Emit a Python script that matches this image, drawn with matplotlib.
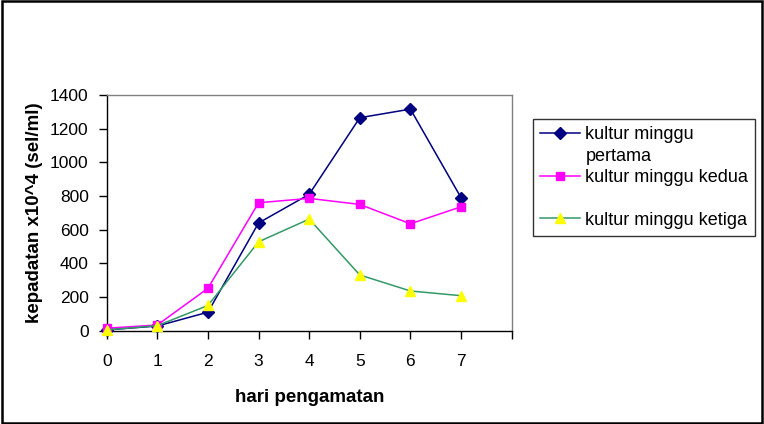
import matplotlib
matplotlib.use("Agg")
import matplotlib.pyplot as plt
from matplotlib.patches import Rectangle
from matplotlib.lines import Line2D

plt.rcParams['font.family'] = ['Liberation Sans', 'DejaVu Sans']

days = [0, 1, 2, 3, 4, 5, 6, 7]
minggu1 = [5, 28, 110, 640, 810, 1265, 1316, 790]
minggu2 = [15, 34, 252, 760, 786, 750, 635, 736]
minggu3 = [5, 30, 150, 528, 663, 331, 236, 208]
labels = ["kultur minggu", "pertama", "kultur minggu kedua", " ", "kultur minggu ketiga"]
yticks = [0, 200, 400, 600, 800, 1000, 1200, 1400]

fig = plt.figure(figsize=(7.64, 4.24), dpi=100)
fig.patch.set_facecolor('white')
fig.patches.append(Rectangle((0.002, 0.003), 0.995, 0.994, transform=fig.transFigure,
                             fill=False, edgecolor='black', linewidth=1.8, zorder=10))

ax = fig.add_axes([0.1397, 0.220, 0.530, 0.556])
l1, = ax.plot(days, minggu1, color='#000080', marker='D', markersize=6,
              markerfacecolor='#000080', markeredgecolor='#000080', linewidth=1.1, zorder=3)
l2, = ax.plot(days, minggu2, color='#FF00FF', marker='s', markersize=6,
              markerfacecolor='#FF00FF', markeredgecolor='#FF00FF', linewidth=1.1, zorder=3)
l3, = ax.plot(days, minggu3, color='#339966', marker='^', markersize=7.5,
              markerfacecolor='#FFFF00', markeredgecolor='#FFFF00', linewidth=1.1, zorder=4)

ax.set_xlim(0, 8)
ax.set_ylim(0, 1400)
ax.set_xticks(range(0, 9))
ax.set_xticklabels([str(d) for d in days] + [""])
ax.set_yticks(yticks)
ax.set_yticklabels([str(v) for v in yticks])
ax.tick_params(axis='x', direction='out', length=6, width=1, pad=11, labelsize=12.5)
ax.tick_params(axis='y', direction='out', length=6, width=1, pad=7, labelsize=12.5)
for s in ['left', 'bottom']:
    ax.spines[s].set_color('black')
    ax.spines[s].set_linewidth(1)
for s in ['top', 'right']:
    ax.spines[s].set_color('#808080')
    ax.spines[s].set_linewidth(1)
for l in [l1, l2, l3]:
    l.set_clip_on(False)

ax.set_xlabel("hari pengamatan", fontsize=13.5, fontweight='bold')
ax.set_ylabel("kepadatan x10^4 (sel/ml)", fontsize=13.5, fontweight='bold')
ax.xaxis.set_label_coords(0.5, -0.247)
ax.yaxis.set_label_coords(-0.157, 0.5)

blank = Line2D([], [], linestyle='none')
leg = fig.legend([l1, blank, l2, blank, l3], labels, loc='upper left',
                 bbox_to_anchor=(0.6976, 0.7193),
                 fontsize=13, frameon=True, fancybox=False, edgecolor='black',
                 handlelength=2.2, handletextpad=0.3, labelspacing=0.24,
                 borderpad=0.4, borderaxespad=0)
leg.get_frame().set_linewidth(1)

fig.savefig("out.png", dpi=100)
